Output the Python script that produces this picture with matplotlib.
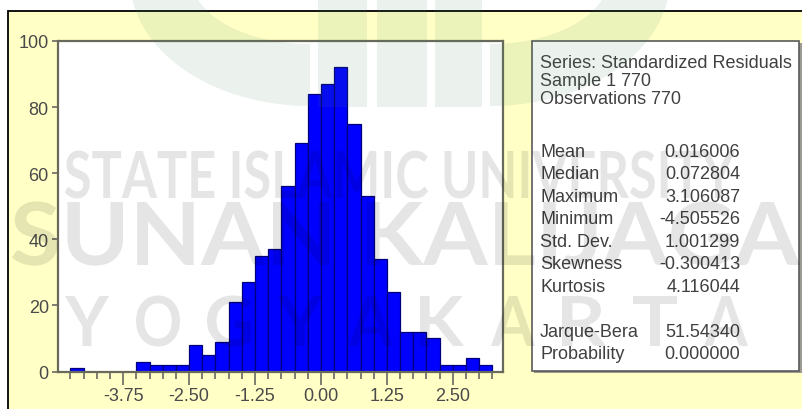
import numpy as np
import matplotlib
matplotlib.use("Agg")
import matplotlib.pyplot as plt
from matplotlib.patches import Rectangle, PathPatch, Polygon
from matplotlib.textpath import TextPath
from matplotlib.font_manager import FontProperties
from matplotlib.transforms import Affine2D
import matplotlib.ticker as mticker

plt.rcParams['font.family'] = ['Liberation Sans', 'DejaVu Sans']
plt.rcParams['axes.unicode_minus'] = False

# ---------------- data ----------------
bin_start = -4.75
bin_width = 0.25
counts = [1, 0, 0, 0, 0,
          3, 2, 2, 2, 8, 5, 9, 21, 27, 35, 37, 56, 69, 84, 87, 92,
          75, 53, 34, 24, 12, 12, 10, 2, 2, 4, 2]
x_ticks = [-3.75, -2.50, -1.25, 0.00, 1.25, 2.50]
y_ticks = [0, 20, 40, 60, 80, 100]

header_lines = ["Series: Standardized Residuals", "Sample 1 770", "Observations 770"]
stat_labels = ["Mean", "Median", "Maximum", "Minimum", "Std. Dev.", "Skewness",
               "Kurtosis", "", "Jarque-Bera", "Probability"]
stat_values = ["0.016006", "0.072804", "3.106087", "-4.505526", "1.001299",
               "-0.300413", "4.116044", "", "51.54340", "0.000000"]

wm_line1 = "STATE ISLAMIC UNIVERSITY"
wm_line2 = "SUNAN KALIJAGA"
wm_line3 = "YOGYAKARTA"

# ---------------- figure ----------------
W, H = 802, 410
fig = plt.figure(figsize=(W / 100, H / 100), dpi=100)
fig.patch.set_facecolor('white')


def box(x0, y0, x1, y1):
    return [x0 / W, 1 - y1 / H, (x1 - x0) / W, (y1 - y0) / H]


bg = fig.add_axes([0, 0, 1, 1], zorder=0)
bg.set_xlim(0, W)
bg.set_ylim(H, 0)
bg.axis('off')
bg.add_patch(Rectangle((8, 12), W, H, facecolor='#ffffc6', edgecolor='black', lw=1.3))

# stats box
bg.add_patch(Rectangle((534, 44), 268, 330, facecolor='#9a9a90', edgecolor='none'))
bg.add_patch(Rectangle((532, 42), 267, 330, facecolor='white', edgecolor='#5a5a5a', lw=1.2))
txt_color = '#404040'
fs = 13
header_y = [63, 82, 100]
for s, yy in zip(header_lines, header_y):
    bg.text(540, yy, s, fontsize=fs, color=txt_color, va='center', ha='left')
y0 = 152.5
dy = 22.46
for i, (lab, val) in enumerate(zip(stat_labels, stat_values)):
    yy = y0 + i * dy
    bg.text(540, yy, lab, fontsize=fs, color=txt_color, va='center', ha='left')
    bg.text(740, yy, val, fontsize=fs, color=txt_color, va='center', ha='right')

# histogram
ax = fig.add_axes(box(58.5, 42, 503, 372.5), zorder=1)
ax.set_facecolor('white')
edges = bin_start + bin_width * np.arange(len(counts))
ax.bar(edges, counts, width=bin_width, align='edge', color='#0000ff',
       edgecolor='#00007a', linewidth=0.9)
ax.set_xlim(-4.975, 3.45)
ax.set_ylim(0, 100)
ax.set_xticks(x_ticks)
ax.xaxis.set_major_formatter(mticker.FormatStrFormatter('%.2f'))
ax.xaxis.set_minor_locator(mticker.MultipleLocator(0.25))
ax.set_yticks(y_ticks)
ax.tick_params(axis='x', which='major', length=9, width=1.1, color='#5a5a5a',
               labelsize=fs, labelcolor='#4a4a4a', pad=2)
ax.tick_params(axis='x', which='minor', length=5, width=1.1, color='#5a5a5a')
ax.tick_params(axis='y', which='major', length=4, width=1.1, color='#5a5a5a',
               labelsize=fs, labelcolor='#4a4a4a', pad=3)
for sp in ax.spines.values():
    sp.set_color('#6a6a5a')
    sp.set_linewidth(1.6)

# ---------------- watermark overlay ----------------
ov = fig.add_axes([0, 0, 1, 1], zorder=5)
ov.set_xlim(0, W)
ov.set_ylim(H, 0)
ov.axis('off')
ov.patch.set_alpha(0)

fp = FontProperties(family='Lato', weight='bold')
cap_h = TextPath((0, 0), 'H', size=100, prop=fp).get_extents().height


def fit_text(s, x0, x1, ytop, ybot):
    tp = TextPath((0, 0), s, size=100, prop=fp)
    ext = tp.get_extents()
    sx = (x1 - x0) / ext.width
    sy = (ybot - ytop) / cap_h
    tr = Affine2D().translate(-ext.x0, 0).scale(sx, -sy).translate(x0, ybot)
    ov.add_patch(PathPatch(tr.transform_path(tp), facecolor='black', alpha=0.1, lw=0))


fit_text(wm_line1, 65, 735, 152, 199)
fit_text(wm_line2, 12, 800, 203, 266)
for i, ch in enumerate(wm_line3):
    cx = 87 + 71 * i
    fit_text(ch, cx - 22, cx + 22, 297, 347)

# logo shapes
logo_kw = dict(facecolor=(0.25, 0.5, 0.35), alpha=0.1, lw=0)
for (bx0, bx1) in [(318, 367), (377, 427), (435, 482)]:
    ov.add_patch(Rectangle((bx0, 0), bx1 - bx0, 108, **logo_kw))


def ring(cx, cy, ao, bo, ai, bi, t0, t1):
    t = np.linspace(t0, t1, 60)
    outer = np.c_[cx + ao * np.cos(t), cy + bo * np.sin(t)]
    inner = np.c_[cx + ai * np.cos(t[::-1]), cy + bi * np.sin(t[::-1])]
    ov.add_patch(Polygon(np.vstack([outer, inner]), closed=True, **logo_kw))


ring(310, -20, 180, 127, 118, 65, np.pi / 2, np.pi)
ring(490, -20, 180, 127, 118, 65, 0, np.pi / 2)

fig.savefig('out.png', dpi=100, facecolor='white')
